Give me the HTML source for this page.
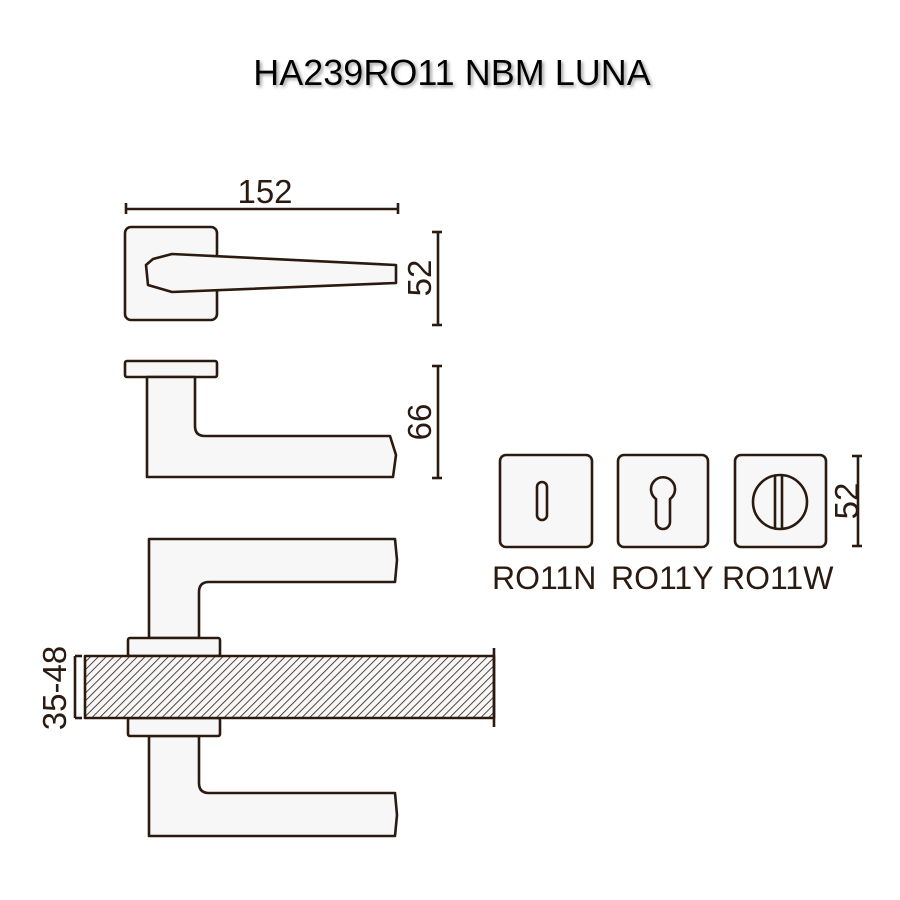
<!DOCTYPE html>
<html><head><meta charset="utf-8"><style>
html,body{margin:0;padding:0;background:#fff}
svg{display:block}
text{font-family:"Liberation Sans",sans-serif;fill:#2a1a10}
</style></head><body>
<svg width="900" height="900" viewBox="0 0 900 900">
<defs>
<pattern id="h" patternUnits="userSpaceOnUse" width="5.5" height="5.5" patternTransform="rotate(45)">
<rect width="5.5" height="5.5" fill="#f7f7f7"/><line x1="0" y1="0" x2="0" y2="5.5" stroke="#2a1a10" stroke-width="1.6"/>
</pattern>
<filter id="sh"><feDropShadow dx="2" dy="2" stdDeviation="1.5" flood-color="#888" flood-opacity="0.8"/></filter>
</defs>
<text x="452" y="85" font-size="36" text-anchor="middle" filter="url(#sh)" style="fill:#000">HA239RO11 NBM LUNA</text>
<g fill="#f7f7f7" stroke="#2a1a10" stroke-width="2.6" stroke-linejoin="round">
<line x1="126" y1="209" x2="398" y2="209"/>
<line x1="126" y1="203" x2="126" y2="214"/><line x1="398" y1="203" x2="398" y2="214"/>
<rect x="125" y="227" width="92" height="93" rx="6"/>
<path d="M172,254 L396,265 L396,283 L172,292 L148,285 L146,265 L153,259 Z"/>
<line x1="438" y1="232" x2="438" y2="325"/><line x1="432" y1="232" x2="442" y2="232"/><line x1="432" y1="325" x2="442" y2="325"/>
<rect x="125" y="361" width="92" height="16" rx="2"/>
<path d="M147,377 L195,377 L195,426 Q195,436 205,436 L390,436 L396,455 L393,477 L147,477 Z"/>
<line x1="438" y1="366" x2="438" y2="478"/><line x1="432" y1="366" x2="442" y2="366"/><line x1="432" y1="478" x2="442" y2="478"/>
<path d="M149,638 L149,539 L395,539 L397,560 L395,582 L209,582 Q199,582 199,592 L199,638 Z"/>
<path d="M149,736 L149,836 L395,836 L397,815 L395,793 L209,793 Q199,793 199,783 L199,736 Z"/>
<rect x="128" y="638" width="92" height="18" rx="2"/>
<rect x="128" y="718" width="92" height="18" rx="2"/>
<rect x="85" y="656" width="409" height="62" fill="url(#h)"/>
<line x1="494" y1="648" x2="494" y2="727"/>
<line x1="75" y1="656" x2="75" y2="718"/><line x1="75" y1="656" x2="82" y2="656"/><line x1="75" y1="718" x2="82" y2="718"/>
<rect x="500" y="455" width="92" height="92" rx="6"/>
<rect x="537" y="482" width="10" height="38" rx="5"/>
<rect x="618" y="455" width="90" height="92" rx="6"/>
<path d="M656,499 A12,12 0 1 1 670,499 L670,522 A7,7 0 0 1 656,522 Z"/>
<rect x="735" y="455" width="91" height="92" rx="6"/>
<circle cx="780" cy="502" r="27"/>
<line x1="775" y1="475" x2="775" y2="529"/><line x1="782" y1="475" x2="782" y2="529"/>
<line x1="858" y1="456" x2="858" y2="546"/><line x1="852" y1="456" x2="862" y2="456"/><line x1="852" y1="546" x2="862" y2="546"/>
</g>
<text x="265" y="203" font-size="33" text-anchor="middle">152</text>
<text transform="translate(431,278) rotate(-90)" font-size="33" text-anchor="middle">52</text>
<text transform="translate(431,422) rotate(-90)" font-size="33" text-anchor="middle">66</text>
<text transform="translate(66,688) rotate(-90)" font-size="33" text-anchor="middle">35-48</text>
<text transform="translate(858,501) rotate(-90)" font-size="33" text-anchor="middle">52</text>
<text x="492" y="589" font-size="32">RO11N</text>
<text x="611" y="589" font-size="32">RO11Y</text>
<text x="722" y="589" font-size="32">RO11W</text>
</svg>
</body></html>
